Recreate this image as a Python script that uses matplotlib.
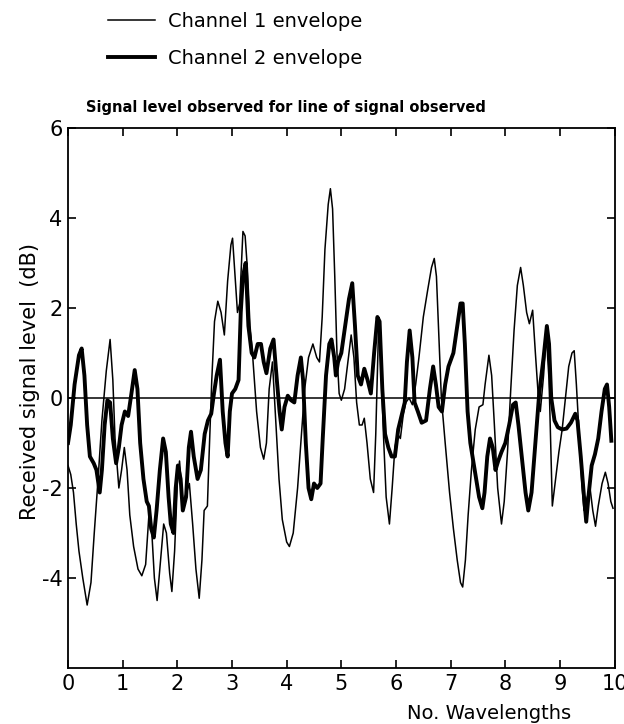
import numpy as np
import matplotlib
matplotlib.use("Agg")
import matplotlib.pyplot as plt

plt.rcParams['font.family'] = ['DejaVu Sans']
plt.rcParams['axes.unicode_minus'] = False

# channel 1 envelope (thin line), x in wavelengths, y in dB
ch1_x = [0.0, 0.05, 0.1, 0.15, 0.2, 0.27, 0.35, 0.42, 0.48, 0.55, 0.62, 0.7, 0.77, 0.82, 0.86,
         0.93, 0.98, 1.03, 1.08, 1.13, 1.2, 1.28, 1.35, 1.42, 1.48, 1.52, 1.58, 1.63, 1.68, 1.75,
         1.8, 1.86, 1.9, 1.95, 2.0, 2.04, 2.1, 2.17, 2.22, 2.28, 2.34, 2.4, 2.45, 2.49, 2.55,
         2.58, 2.63, 2.68, 2.74, 2.8, 2.86, 2.92, 2.98, 3.01, 3.05, 3.1, 3.14, 3.2, 3.24, 3.28,
         3.33, 3.38, 3.45, 3.52, 3.58, 3.63, 3.68, 3.74, 3.8, 3.86, 3.92, 4.0, 4.05, 4.12, 4.2,
         4.27, 4.33, 4.4, 4.48, 4.55, 4.6, 4.65, 4.7, 4.76, 4.8, 4.84, 4.88, 4.92, 4.96, 5.0,
         5.06, 5.12, 5.18, 5.23, 5.28, 5.33, 5.38, 5.42, 5.47, 5.53, 5.59, 5.63, 5.68, 5.72, 5.77,
         5.82, 5.88, 5.93, 5.98, 6.03, 6.08, 6.13, 6.18, 6.24, 6.3, 6.36, 6.42, 6.5, 6.58, 6.65,
         6.7, 6.74, 6.78, 6.83, 6.9, 6.98, 7.05, 7.12, 7.18, 7.22, 7.27, 7.32, 7.38, 7.45, 7.52,
         7.59, 7.63, 7.7, 7.75, 7.8, 7.86, 7.93, 7.98, 8.04, 8.1, 8.16, 8.22, 8.28, 8.33, 8.39,
         8.44, 8.5, 8.55, 8.6, 8.64, 8.7, 8.75, 8.8, 8.86, 8.92, 8.98, 9.04, 9.1, 9.16, 9.22,
         9.26, 9.3, 9.35, 9.4, 9.44, 9.5, 9.55, 9.6, 9.65, 9.7, 9.77, 9.83, 9.88, 9.93, 9.97]
ch1_y = [-1.5, -1.7, -2.1, -2.8, -3.4, -4.0, -4.6, -4.1, -3.0, -1.8, -0.5, 0.6, 1.3, 0.4, -0.9,
         -2.0, -1.6, -1.1, -1.6, -2.6, -3.3, -3.8, -3.95, -3.7, -2.6, -2.7, -4.0, -4.5, -3.8, -2.8,
         -3.0, -3.9, -4.3, -3.4, -1.9, -1.4, -2.3, -2.1, -1.9, -2.8, -3.8, -4.45, -3.6, -2.5, -2.4,
         -1.3, 0.4, 1.7, 2.15, 1.9, 1.4, 2.6, 3.4, 3.55, 2.8, 1.9, 2.1, 3.7, 3.6, 2.9,
         1.6, 0.9, -0.3, -1.1, -1.36, -1.0, 0.2, 0.8, -0.5, -1.8, -2.7, -3.2, -3.3, -3.0, -2.0,
         -0.8, 0.2, 0.9, 1.2, 0.9, 0.8, 1.8, 3.3, 4.3, 4.65, 4.2, 2.7, 1.0, 0.1, -0.05,
         0.2, 0.8, 1.4, 0.9, -0.1, -0.6, -0.6, -0.45, -1.0, -1.8, -2.1, -0.8, 1.5, 1.0, -0.8,
         -2.2, -2.8, -2.0, -1.1, -0.8, -0.9, -0.4, -0.1, 0.0, -0.15, 0.3, 0.9, 1.8, 2.4, 2.9,
         3.1, 2.7, 1.5, 0.0, -1.0, -2.1, -2.9, -3.6, -4.1, -4.2, -3.6, -2.6, -1.6, -0.7, -0.2,
         -0.15, 0.3, 0.95, 0.5, -0.6, -2.0, -2.8, -2.3, -1.2, 0.2, 1.5, 2.5, 2.9, 2.5, 1.9,
         1.65, 1.95, 1.0, 0.1, -0.3, 0.5, 1.4, 0.4, -2.4, -1.8, -1.2, -0.7, 0.0, 0.7, 1.0,
         1.05, 0.3, -0.8, -1.9, -2.5, -2.2, -2.0, -2.5, -2.85, -2.4, -1.9, -1.65, -1.9, -2.3, -2.45]

# channel 2 envelope (thick line)
ch2_x = [0.0, 0.05, 0.12, 0.2, 0.25, 0.3, 0.35, 0.4, 0.47, 0.52, 0.58, 0.62, 0.67, 0.72, 0.77,
         0.82, 0.88, 0.93, 0.98, 1.04, 1.1, 1.16, 1.22, 1.27, 1.32, 1.38, 1.44, 1.48, 1.52, 1.57,
         1.62, 1.68, 1.74, 1.79, 1.84, 1.88, 1.93, 1.97, 2.01, 2.06, 2.1, 2.16, 2.21, 2.25, 2.3,
         2.37, 2.43, 2.5, 2.56, 2.62, 2.67, 2.72, 2.78, 2.83, 2.88, 2.92, 2.96, 3.0, 3.06, 3.12,
         3.16, 3.2, 3.25, 3.3, 3.36, 3.41, 3.47, 3.53, 3.58, 3.63, 3.7, 3.76, 3.82, 3.87, 3.91,
         3.96, 4.02, 4.08, 4.14, 4.2, 4.26, 4.3, 4.35, 4.4, 4.45, 4.5, 4.56, 4.62, 4.66, 4.72,
         4.78, 4.82, 4.87, 4.9, 4.94, 5.0, 5.07, 5.14, 5.2, 5.25, 5.3, 5.36, 5.42, 5.48, 5.54,
         5.6, 5.66, 5.7, 5.75, 5.8, 5.86, 5.92, 5.98, 6.04, 6.1, 6.16, 6.2, 6.25, 6.3, 6.34,
         6.4, 6.47, 6.55, 6.62, 6.68, 6.73, 6.78, 6.84, 6.9, 6.96, 7.05, 7.12, 7.18, 7.22, 7.26,
         7.31, 7.36, 7.44, 7.52, 7.58, 7.62, 7.67, 7.72, 7.77, 7.82, 7.87, 7.93, 8.0, 8.07, 8.14,
         8.19, 8.24, 8.3, 8.37, 8.42, 8.48, 8.55, 8.62, 8.7, 8.76, 8.8, 8.84, 8.9, 8.96, 9.04,
         9.12, 9.2, 9.28, 9.32, 9.38, 9.44, 9.48, 9.52, 9.58, 9.64, 9.7, 9.76, 9.82, 9.86, 9.9,
         9.94]
ch2_y = [-1.0, -0.6, 0.3, 0.95, 1.1, 0.5, -0.6, -1.3, -1.45, -1.6, -2.1, -1.6, -0.6, -0.05, -0.1,
         -0.9, -1.45, -1.1, -0.6, -0.3, -0.4, 0.1, 0.62, 0.2, -1.0, -1.8, -2.3, -2.4, -2.9, -3.1,
         -2.5, -1.6, -0.9, -1.2, -2.2, -2.8, -3.0, -2.0, -1.5, -1.8, -2.5, -2.2, -1.1, -0.75, -1.3,
         -1.8, -1.6, -0.8, -0.5, -0.35, 0.1, 0.5, 0.85, -0.3, -1.0, -1.3, -0.3, 0.1, 0.2, 0.4,
         1.9, 2.7, 3.0, 1.6, 1.0, 0.9, 1.2, 1.2, 0.8, 0.55, 1.1, 1.3, 0.4, -0.3, -0.7,
         -0.2, 0.05, -0.05, -0.1, 0.5, 0.9, 0.4, -1.0, -2.0, -2.25, -1.9, -2.0, -1.9, -0.9, 0.5,
         1.2, 1.3, 0.9, 0.5, 0.8, 1.0, 1.6, 2.2, 2.55, 1.6, 0.5, 0.3, 0.65, 0.4, 0.1,
         1.0, 1.8, 1.7, 0.2, -0.8, -1.1, -1.3, -1.3, -0.7, -0.4, -0.1, 0.8, 1.5, 0.9, -0.1,
         -0.3, -0.55, -0.5, 0.2, 0.7, 0.3, -0.2, -0.3, 0.3, 0.7, 1.0, 1.6, 2.1, 2.1, 1.2,
         -0.3, -1.0, -1.6, -2.2, -2.45, -2.1, -1.3, -0.9, -1.1, -1.6, -1.4, -1.2, -1.0, -0.6, -0.15,
         -0.1, -0.6, -1.3, -2.1, -2.5, -2.1, -1.0, 0.1, 0.9, 1.6, 1.2, 0.0, -0.5, -0.65, -0.7,
         -0.68, -0.55, -0.35, -0.5, -1.3, -2.2, -2.75, -2.2, -1.5, -1.25, -0.9, -0.3, 0.2, 0.3, -0.2,
         -0.95]

x_ticks = list(range(0, 11))
y_ticks = [-4, -2, 0, 2, 4, 6]

fig = plt.figure(figsize=(6.24, 7.24), dpi=100)
ax = fig.add_axes([0.109, 0.0773, 0.876, 0.746])

l1, = ax.plot(ch1_x, ch1_y, color='black', lw=1.1, solid_joinstyle='round')
l2, = ax.plot(ch2_x, ch2_y, color='black', lw=2.8, solid_joinstyle='round')
ax.axhline(0, color='black', lw=1.1)

ax.set_xlim(0, 10)
ax.set_ylim(-6, 6)
ax.set_xticks(x_ticks)
ax.set_yticks(y_ticks)
ax.tick_params(direction='in', top=True, right=True, length=6, width=1.2,
               labelsize=15, pad=4)
for s in ax.spines.values():
    s.set_linewidth(1.3)

# title sits left of centre in the original
ax.text(0.032, 1.03, 'Signal level observed for line of signal observed',
        transform=ax.transAxes, ha='left', va='baseline', fontsize=10.5,
        fontweight='bold')
ax.set_ylabel('Received signal level  (dB)', fontsize=15)
ax.yaxis.set_label_coords(-0.052, 0.53)
ax.set_xlabel('No. Wavelengths', fontsize=14)
ax.xaxis.set_label_coords(0.77, -0.066)

fig.legend([l1, l2], ['Channel 1 envelope', 'Channel 2 envelope'],
           loc='upper left', bbox_to_anchor=(0.145, 1.008), frameon=False,
           fontsize=14, handlelength=2.4, handletextpad=0.7, labelspacing=0.95)

fig.savefig('out.png', dpi=100)
